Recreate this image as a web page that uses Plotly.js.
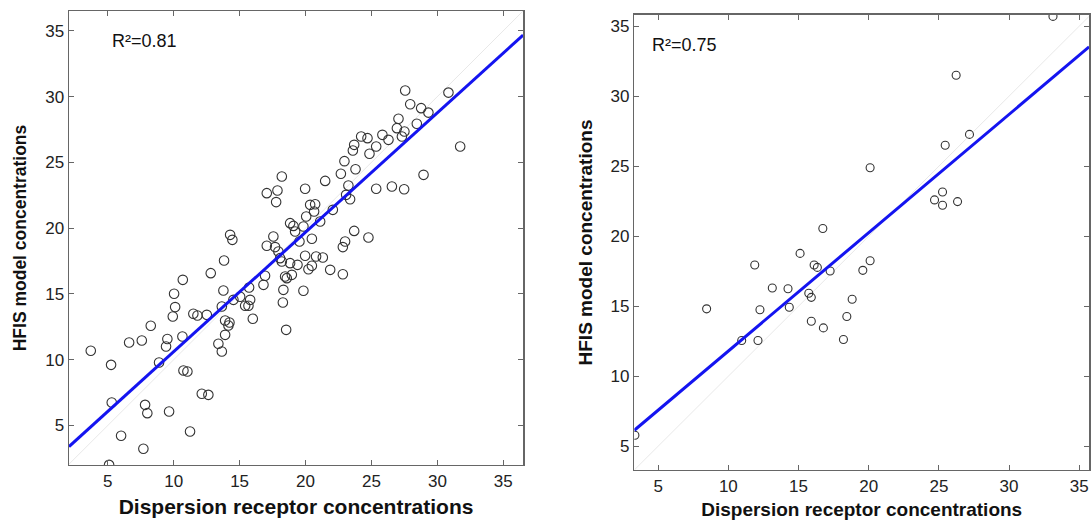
<!DOCTYPE html>
<html>
<head>
<meta charset="utf-8">
<script src="https://cdn.plot.ly/plotly-3.0.1.min.js"></script>
<style>html,body{margin:0;padding:0;background:#fff;}#chart{width:1092px;height:520px;}</style>
</head>
<body>
<div id="chart"></div>
<script>
// Left panel: dispersion receptor (x) vs HFIS model (y)
var leftX = [27.56,30.84,27.94,28.77,29.32,27.05,28.44,26.93,27.50,27.31,24.22,24.70,25.83,26.29,23.69,23.59,25.36,24.85,31.73,22.95,
22.68,23.79,28.95,18.20,21.49,17.06,17.87,17.77,19.97,23.25,23.08,23.38,25.36,26.55,27.48,20.35,20.73,20.65,22.07,20.05,
21.11,18.83,19.08,19.84,19.21,23.69,24.77,14.28,14.45,17.56,20.48,19.54,23.00,22.83,17.06,17.69,17.94,18.07,18.20,18.83,
19.97,20.80,21.31,13.82,19.39,20.48,20.22,21.87,22.83,12.81,16.93,18.45,18.58,18.96,10.69,16.81,15.72,18.32,19.84,13.77,
10.03,14.53,15.04,15.80,15.42,15.67,18.28,10.11,13.65,11.49,11.80,12.51,9.93,16.00,13.90,14.23,14.15,8.26,18.53,13.90,
10.66,9.52,6.62,7.58,13.39,9.42,3.71,13.65,5.25,8.89,10.74,11.04,12.13,12.63,5.30,7.83,8.00,9.65,6.01,11.24,7.70,5.10];
var leftY = [30.46,30.30,29.42,29.12,28.78,28.31,27.93,27.60,27.34,26.96,26.96,26.84,27.09,26.71,26.33,25.90,26.20,25.65,26.20,25.09,
24.13,24.48,24.05,23.92,23.59,22.66,22.86,21.98,22.99,23.24,22.53,22.20,22.99,23.16,22.96,21.77,21.82,21.26,21.39,20.88,
20.50,20.38,20.17,20.12,19.74,19.79,19.29,19.49,19.11,19.36,19.19,18.98,18.98,18.56,18.66,18.56,18.22,17.72,17.46,17.34,
17.90,17.84,17.77,17.54,17.21,17.14,16.88,16.83,16.50,16.58,16.38,16.32,16.20,16.45,16.07,15.69,15.49,15.31,15.24,15.26,
15.01,14.55,14.78,14.55,14.10,14.10,14.35,14.00,14.04,13.49,13.36,13.41,13.28,13.11,12.98,12.83,12.60,12.58,12.27,11.89,
11.76,11.57,11.31,11.46,11.21,11.00,10.68,10.62,9.61,9.79,9.18,9.10,7.41,7.33,6.75,6.57,5.94,6.06,4.22,4.54,3.23,2.01];

// Right panel
var rightX = [33.13,26.23,27.18,25.45,20.10,25.26,24.69,25.26,26.33,16.73,15.11,11.88,16.11,16.34,17.25,20.10,19.58,13.13,14.25,15.73,
15.91,18.82,8.45,12.25,14.34,18.44,15.91,16.77,18.20,12.11,10.95,3.34];
var rightY = [35.70,31.50,27.27,26.49,24.89,23.16,22.59,22.21,22.47,20.55,18.77,17.94,17.94,17.77,17.51,18.25,17.56,16.30,16.25,15.92,
15.63,15.49,14.81,14.74,14.92,14.26,13.92,13.45,12.62,12.55,12.55,5.78];

// Fitted lines: [left, right]
var fitSlope = [0.908, 0.845];
var fitIntercept = [1.53, 3.35];
var r2Labels = ["R\u00b2=0.81", "R\u00b2=0.75"];
var xTitle = "Dispersion receptor concentrations";
var yTitle = "HFIS model concentrations";
var ranges = [[2.06, 36.5, 2.0, 36.5], [3.3, 35.7, 3.3, 35.8]];
var tickVals = [5, 10, 15, 20, 25, 30, 35];

function lineTrace(i, xa, ya) {
  var r = ranges[i];
  var xs = [r[0], r[1]];
  return {x: xs, y: xs.map(function(v){return fitSlope[i]*v + fitIntercept[i];}),
    xaxis: xa, yaxis: ya, mode: 'lines', line: {color: '#1414f0', width: 3}, hoverinfo: 'skip'};
}
function diagTrace(i, xa, ya) {
  var r = ranges[i];
  var xs = [Math.max(r[0], r[2]), Math.min(r[1], r[3])];
  return {x: xs, y: xs, xaxis: xa, yaxis: ya, mode: 'lines', line: {color: '#e8e8e8', width: 1}, hoverinfo: 'skip'};
}
var mkL = {symbol: 'circle-open', size: 9.5, color: '#333', line: {width: 1.1, color: '#333'}};
var mkR = {symbol: 'circle-open', size: 8, color: '#333', line: {width: 1.1, color: '#333'}};
var traces = [
  diagTrace(0, 'x', 'y'),
  {x: leftX, y: leftY, xaxis: 'x', yaxis: 'y', mode: 'markers', marker: mkL},
  lineTrace(0, 'x', 'y'),
  diagTrace(1, 'x2', 'y2'),
  {x: rightX, y: rightY, xaxis: 'x2', yaxis: 'y2', mode: 'markers', marker: mkR},
  lineTrace(1, 'x2', 'y2')
];

function ax(range, domain, anchor, title, standoff, tsize) {
  return {range: range, domain: domain, anchor: anchor, tickvals: tickVals,
    showline: true, mirror: 'ticks', linecolor: '#666', linewidth: 1.5,
    ticks: 'inside', ticklen: 5, tickcolor: '#666', showgrid: false, zeroline: false,
    tickfont: {family: 'Liberation Sans, Arial, sans-serif', size: 17, color: '#222'},
    title: {text: title, font: {family: 'Liberation Sans, Arial, sans-serif', size: tsize, color: '#111', weight: 'bold'}, standoff: standoff}};
}
var layout = {
  width: 1092, height: 520, margin: {l: 0, r: 0, t: 0, b: 0},
  paper_bgcolor: '#fff', plot_bgcolor: '#fff', showlegend: false,
  xaxis: ax([ranges[0][0], ranges[0][1]], [0.0632, 0.479], 'y', '<b>' + xTitle + '</b>', 9, 21),
  yaxis: ax([ranges[0][2], ranges[0][3]], [0.1058, 0.9788], 'x', '<b>' + yTitle + '</b>', 14, 17.5),
  xaxis2: ax([ranges[1][0], ranges[1][1]], [0.5809, 0.9973], 'y2', '<b>' + xTitle + '</b>', 10, 19),
  yaxis2: ax([ranges[1][2], ranges[1][3]], [0.0962, 0.9712], 'x2', '<b>' + yTitle + '</b>', 13, 19),
  annotations: [
    {xref: 'x domain', yref: 'y domain', x: 0.09, y: 0.96, xanchor: 'left', yanchor: 'top', showarrow: false,
     text: r2Labels[0], font: {family: 'Liberation Sans, Arial, sans-serif', size: 18, color: '#111'}},
    {xref: 'x2 domain', yref: 'y2 domain', x: 0.035, y: 0.96, xanchor: 'left', yanchor: 'top', showarrow: false,
     text: r2Labels[1], font: {family: 'Liberation Sans, Arial, sans-serif', size: 18, color: '#111'}}
  ]
};
Plotly.newPlot('chart', traces, layout, {displayModeBar: false, staticPlot: true});
</script>
</body>
</html>
